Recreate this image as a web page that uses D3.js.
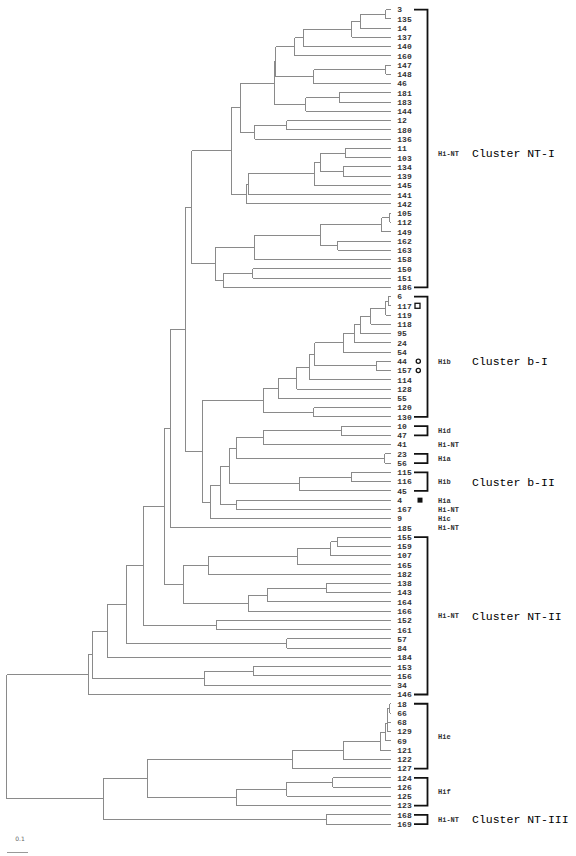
<!DOCTYPE html>
<html><head><meta charset="utf-8">
<script src="https://cdn.jsdelivr.net/npm/d3@7"></script>
<style>html,body{margin:0;padding:0;background:#fff;} svg{display:block;}</style>
</head><body><svg id="chart" width="576" height="856"></svg>
<script>
// ---------- DATA ----------
// Distance from root of every leaf tip (ultrametric tree)
const tipDepth = 1.83;
// Merges: [node id, upper child, lower child, distance from root]
const mergesNTI = [
  ["a1","3","135",1.807],["a2","a1","14",1.685],["a3","a2","137",1.644],["a4","a3","140",1.413],
  ["a5","a4","160",1.372],["a6","147","148",1.807],["a7","a6","46",1.463],["a8","a5","a7",1.281],
  ["a9","181","183",1.585],["a10","a9","144",1.425],["a11","a8","a10",1.274],["a12","12","180",1.334],
  ["a13","a12","136",1.183],["a14","a11","a13",1.113],["a15","11","103",1.613],["a16","134","139",1.604],
  ["a17","a15","a16",1.494],["a18","a17","145",1.466],["a19","a18","141",1.151],["a20","a19","142",1.142],
  ["a21","a14","a20",1.070],["a22","105","112",1.824],["a23","a22","149",1.787],["a24","162","163",1.577],
  ["a25","a23","a24",1.494],["a26","a25","158",1.183],["a27","150","151",1.172],["a28","a27","186",1.032],
  ["a29","a26","a28",0.993],["a30","a21","a29",0.882]
];
const mergesB = [
  ["b1","6","117",1.818],["b2","b1","119",1.807],["b3","b2","118",1.734],["b4","b3","95",1.688],
  ["b5","b4","24",1.655],["b6","b5","54",1.604],["b7","44","157",1.760],["b8","b6","b7",1.469],
  ["b9","b8","114",1.445],["b10","b9","128",1.382],["b11","b10","55",1.294],["b12","120","130",1.464],
  ["b13","b11","b12",1.223],
  ["c1","10","47",1.593],["c2","c1","41",1.223],["c3","23","56",1.802],["c4","c2","c3",1.094],
  ["c5","115","116",1.644],["c6","c5","45",1.394],["c7","c4","c6",1.063],["c8","4","167",1.094],
  ["c9","c7","c8",1.021],["c10","c9","9",0.972],["c11","b13","c10",0.932],["c12","a30","c11",0.851],
  ["c13","c12","185",0.780]
];
const mergesNTII = [
  ["e1","155","159",1.575],["e2","e1","107",1.544],["e3","e2","165",1.385],["e4","e3","182",0.961],
  ["e5","138","143",1.523],["e6","e5","164",1.242],["e7","e6","166",1.151],["e8","e4","e7",0.842],
  ["e9","c13","e8",0.751],["e10","152","161",1.002],["e11","e9","e10",0.651],["e12","57","84",1.334],
  ["e13","e11","e12",0.571],["e14","e13","184",0.480],["e15","153","156",1.174],["e16","e15","34",0.942],
  ["e17","e14","e16",0.409],["e18","e17","146",0.390]
];
const mergesLower = [
  ["f1","18","66",1.824],["f2","f1","68",1.814],["f3","f2","129",1.812],["f4","f3","69",1.807],
  ["f5","f4","121",1.779],["f6","f5","122",1.604],["f7","f6","127",1.363],
  ["g1","124","126",1.553],["g2","g1","125",1.334],["g3","g2","123",1.094],
  ["h1","f7","g3",0.670],["h2","168","169",1.523],["h3","h1","h2",0.461],
  ["root","e18","h3",0.0]
];
// Brackets (top leaf, bottom leaf)
const bracketTop    = ["3","6","10","23","115","155","18","124","168"];
const bracketBottom = ["186","130","47","56","45","146","127","123","169"];
// Serotype annotations, placed between two leaves
const serotypeText = ["Hi-NT","Hib","Hid","Hi-NT","Hia","Hib","Hia","Hi-NT","Hic","Hi-NT","Hi-NT","Hie","Hif","Hi-NT"];
const serotypeFrom = ["11","44","10","41","23","116","4","167","9","185","166","129","126","168"];
const serotypeTo   = ["103","44","47","41","56","116","4","167","9","185","152","69","125","169"];
// Cluster names and the serotype row they sit on
const clusterText = ["Cluster NT-I","Cluster b-I","Cluster b-II","Cluster NT-II","Cluster NT-III"];
const clusterRow  = [0,1,5,10,13];
// Markers next to leaves
const markerLeaf  = ["117","44","157","4"];
const markerShape = ["openSquare","openCircle","openCircle","filledSquare"];
const scaleBarValue = 0.1;
const scaleBarText = "0.1";

// ---------- BUILD ----------
const merges = [...mergesNTI, ...mergesB, ...mergesNTII, ...mergesLower];
const nodes = {};
function get(name){
  if(!nodes[name]) nodes[name] = {name, dist: tipDepth};
  return nodes[name];
}
merges.forEach(([id,a,b,d]) => { nodes[id] = {name:id, dist:d, children:[get(a), get(b)]}; });
const root = d3.hierarchy(nodes["root"]);
const leaves = root.leaves();
const nLeaves = leaves.length;
d3.cluster().size([nLeaves-1, 1]).separation(() => 1)(root);

const x = d3.scaleLinear().domain([0, 1]).range([6.5, 216.5]);
const y = d3.scaleLinear().domain([0, nLeaves-1]).range([5, 828.7]);
const leafY = {};
leaves.forEach(l => leafY[l.data.name] = y(l.x));

const svg = d3.select("#chart");
svg.append("rect").attr("width",576).attr("height",856).attr("fill","#fff");

const g = svg.append("g").attr("stroke","#8a8a8a").attr("stroke-width",1)
  .attr("fill","none").attr("shape-rendering","crispEdges");
// horizontal branches
g.selectAll("path.h").data(root.descendants().filter(d => d.parent)).join("path")
  .attr("class","h")
  .attr("d", d => `M${x(d.parent.data.dist)},${y(d.x)}H${x(d.data.dist)}`);
// vertical connectors
g.selectAll("path.v").data(root.descendants().filter(d => d.children)).join("path")
  .attr("class","v")
  .attr("d", d => `M${x(d.data.dist)},${y(d.children[0].x)}V${y(d.children[1].x)}`);

// leaf labels
const labelX = x(tipDepth) + 6.5;
svg.append("g").selectAll("text").data(leaves).join("text")
  .attr("x", labelX).attr("y", d => y(d.x)).attr("dy","0.35em")
  .attr("font-family","'Liberation Mono', 'DejaVu Sans Mono', monospace")
  .attr("font-size", 8).attr("font-weight","bold").attr("fill","#333")
  .text(d => d.data.name);

// brackets
const bx = 427.5;
const bg = svg.append("g").attr("stroke","#111").attr("stroke-width",1.8).attr("fill","none");
bracketTop.forEach((t,i) => {
  const y0 = leafY[t], y1 = leafY[bracketBottom[i]];
  bg.append("path").attr("d", `M414,${y0}H${bx}V${y1}H414`);
});

// markers
markerLeaf.forEach((lf,i) => {
  const yy = leafY[lf];
  const s = markerShape[i];
  if (s === "openSquare") {
    svg.append("rect").attr("x",415).attr("y",yy-2.5).attr("width",5).attr("height",5)
      .attr("fill","none").attr("stroke","#111").attr("stroke-width",1.3);
  } else if (s === "filledSquare") {
    svg.append("rect").attr("x",417.5).attr("y",yy-2.5).attr("width",5).attr("height",5)
      .attr("fill","#111");
  } else {
    svg.append("circle").attr("cx",418.3).attr("cy",yy).attr("r",2.1)
      .attr("fill","none").attr("stroke","#111").attr("stroke-width",1.3);
  }
});

// serotype labels
const rowY = serotypeText.map((t,i) => (leafY[serotypeFrom[i]] + leafY[serotypeTo[i]]) / 2);
svg.append("g").selectAll("text").data(serotypeText).join("text")
  .attr("x", 438).attr("y", (d,i) => rowY[i]).attr("dy","0.35em")
  .attr("font-family","'Liberation Mono', monospace").attr("font-weight","bold")
  .attr("font-size", 7).attr("fill","#333")
  .text(d => d);

// cluster labels
svg.append("g").selectAll("text").data(clusterText).join("text")
  .attr("x", 472).attr("y", (d,i) => rowY[clusterRow[i]]).attr("dy","0.35em")
  .attr("font-family","'Liberation Mono', monospace")
  .attr("font-size", 11.5).attr("fill","#000")
  .text(d => d);

// scale bar
svg.append("line").attr("x1", x(0)).attr("x2", x(scaleBarValue)).attr("y1",852).attr("y2",852)
  .attr("stroke","#999").attr("stroke-width",1).attr("shape-rendering","crispEdges");
svg.append("text").attr("x",(x(0)+x(scaleBarValue))/2 + 3).attr("y",839).attr("dy","0.35em")
  .attr("text-anchor","middle").attr("font-family","'DejaVu Sans', sans-serif")
  .attr("font-size",6).attr("fill","#666").text(scaleBarText);
</script></body></html>
